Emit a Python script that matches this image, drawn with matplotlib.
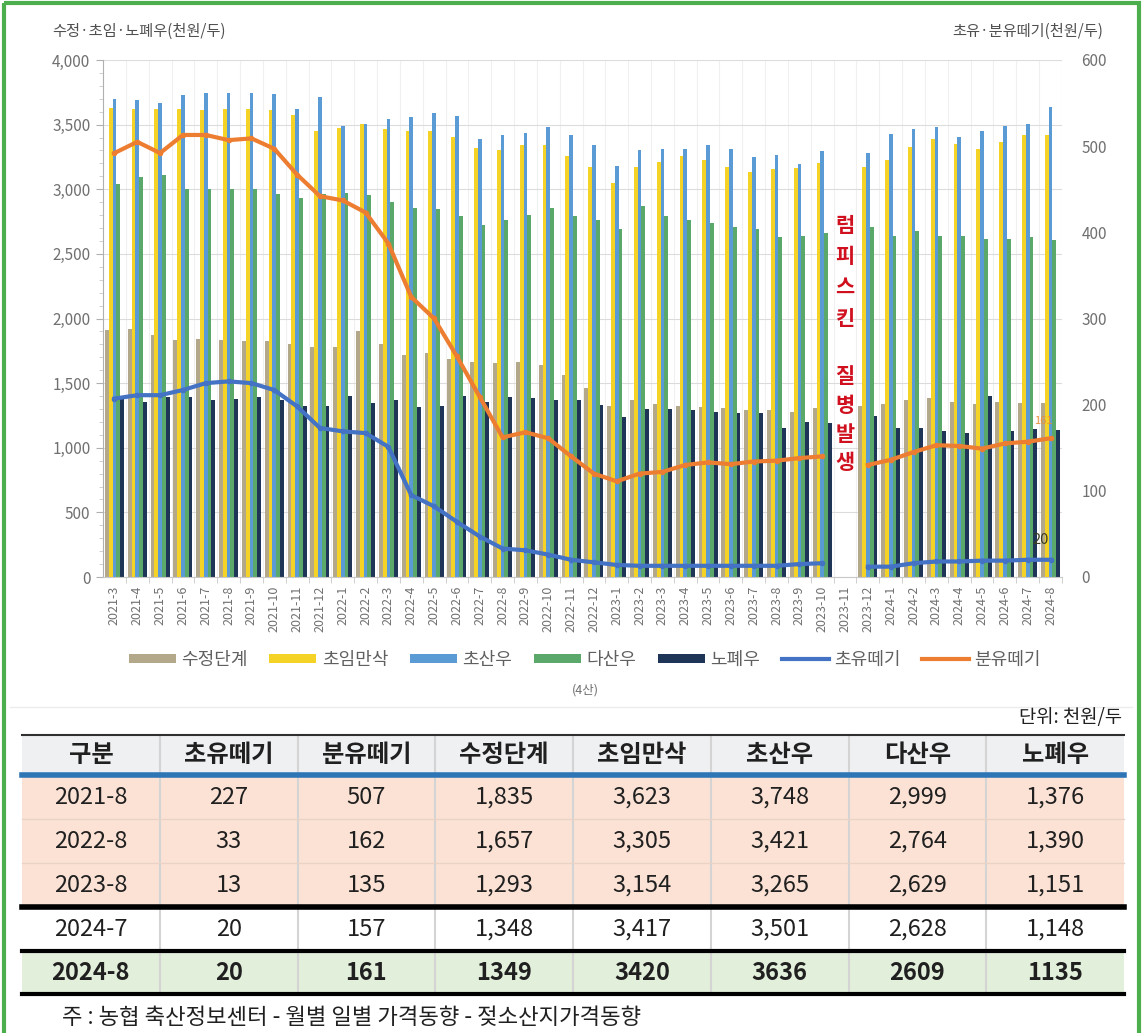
import numpy as np
import matplotlib.pyplot as plt
from matplotlib.patches import Rectangle, Patch
from matplotlib.lines import Line2D
from matplotlib.ticker import FuncFormatter, MultipleLocator

plt.rcParams['font.family'] = ['Noto Sans CJK KR', 'DejaVu Sans']

nan = np.nan

# 월별 가격 (천원/두), 2023-11 자료 없음
months = ['2021-3', '2021-4', '2021-5', '2021-6', '2021-7', '2021-8', '2021-9', '2021-10', '2021-11', '2021-12',
          '2022-1', '2022-2', '2022-3', '2022-4', '2022-5', '2022-6', '2022-7', '2022-8', '2022-9', '2022-10',
          '2022-11', '2022-12', '2023-1', '2023-2', '2023-3', '2023-4', '2023-5', '2023-6', '2023-7', '2023-8',
          '2023-9', '2023-10', '2023-11', '2023-12', '2024-1', '2024-2', '2024-3', '2024-4', '2024-5', '2024-6',
          '2024-7', '2024-8']

sujeong = [1911, 1916, 1872, 1834, 1839, 1835, 1828, 1828, 1803, 1777,
           1782, 1906, 1803, 1718, 1731, 1684, 1666, 1657, 1666, 1640,
           1563, 1460, 1323, 1369, 1339, 1323, 1313, 1305, 1292, 1293,
           1279, 1305, nan, 1323, 1339, 1369, 1385, 1356, 1339, 1356,
           1348, 1349]
choim = [3626, 3618, 3618, 3618, 3613, 3623, 3623, 3613, 3574, 3453,
         3471, 3505, 3464, 3453, 3453, 3407, 3317, 3305, 3340, 3340,
         3257, 3175, 3051, 3175, 3211, 3257, 3226, 3175, 3134, 3154,
         3164, 3201, nan, 3175, 3226, 3325, 3387, 3350, 3309, 3366,
         3417, 3420]
chosan = [3696, 3690, 3670, 3727, 3747, 3748, 3742, 3735, 3623, 3716,
          3489, 3502, 3541, 3561, 3588, 3567, 3391, 3421, 3433, 3479,
          3417, 3340, 3180, 3304, 3314, 3314, 3340, 3309, 3252, 3265,
          3195, 3298, nan, 3283, 3428, 3464, 3479, 3402, 3453, 3489,
          3501, 3636]
dasan = [3041, 3097, 3110, 3000, 3004, 2999, 3000, 2963, 2930, 2963,
         2969, 2953, 2901, 2853, 2850, 2793, 2723, 2764, 2798, 2853,
         2793, 2762, 2690, 2870, 2793, 2762, 2741, 2710, 2690, 2629,
         2638, 2664, nan, 2706, 2638, 2679, 2638, 2638, 2613, 2613,
         2628, 2609]
nopye = [1383, 1356, 1390, 1390, 1369, 1376, 1390, 1369, 1323, 1323,
         1400, 1344, 1369, 1313, 1323, 1400, 1356, 1390, 1383, 1369,
         1369, 1331, 1236, 1298, 1298, 1292, 1279, 1267, 1267, 1151,
         1202, 1189, nan, 1246, 1151, 1151, 1132, 1112, 1400, 1132,
         1148, 1135]
choyu = [207, 211, 211, 217, 225, 227, 225, 217, 198, 173,
         169, 167, 151, 95, 82, 64, 47, 33, 31, 26,
         20, 17, 14, 13, 13, 13, 13, 13, 13, 13,
         15, 16, nan, 12, 12, 16, 18, 18, 19, 19,
         20, 20]
bunyu = [492, 505, 492, 513, 513, 507, 509, 497, 467, 442,
         437, 423, 387, 325, 300, 256, 209, 162, 168, 161,
         140, 120, 111, 120, 122, 130, 133, 131, 134, 135,
         138, 140, nan, 130, 136, 145, 153, 152, 149, 155,
         157, 161]

# 표
tab_header = ['구분', '초유떼기', '분유떼기', '수정단계', '초임만삭', '초산우', '다산우', '노폐우']
tab_rows = [
    ['2021-8', '227', '507', '1,835', '3,623', '3,748', '2,999', '1,376'],
    ['2022-8', '33', '162', '1,657', '3,305', '3,421', '2,764', '1,390'],
    ['2023-8', '13', '135', '1,293', '3,154', '3,265', '2,629', '1,151'],
    ['2024-7', '20', '157', '1,348', '3,417', '3,501', '2,628', '1,148'],
    ['2024-8', '20', '161', '1349', '3420', '3636', '2609', '1135'],
]

W, H = 1142, 1033
fig = plt.figure(figsize=(W / 100, H / 100), dpi=100)
ax = fig.add_axes([103 / W, 1 - 577 / H, (1062 - 103) / W, (577 - 60) / H])
ax2 = ax.twinx()

x = np.arange(len(months))
w = 0.165
bar_series = [(sujeong, '#b3a98a', '수정단계'),
              (choim, '#f5d226', '초임만삭'),
              (chosan, '#5b9bd5', '초산우'),
              (dasan, '#5aa86a', '다산우'),
              (nopye, '#1f3558', '노폐우')]
for k, (vals, col, name) in enumerate(bar_series):
    ax.bar(x + (k - 2) * w, vals, w, color=col, zorder=2, linewidth=0)

ax.set_xlim(-0.5, len(months) - 0.5)
ax.set_ylim(0, 4000)
ax.set_yticks(np.arange(0, 4001, 500))
ax.yaxis.set_minor_locator(MultipleLocator(100))
ax.yaxis.set_major_formatter(FuncFormatter(lambda v, p: f'{int(v):,}'))
ax.set_xticks(x)
ax.set_xticklabels(months, rotation=90, fontsize=9, color='#707070')
ax.set_xticks(x + 0.5, minor=True)
ax.tick_params(axis='x', which='major', length=0, pad=6)
ax.tick_params(axis='x', which='minor', length=4, color='#c8c8c8')
ax.tick_params(axis='y', which='major', length=5, color='#b0b0b0', labelsize=11, labelcolor='#707070', pad=4)
ax.tick_params(axis='y', which='minor', length=3, color='#c8c8c8')
ax.grid(axis='y', which='major', color='#dcdcdc', lw=0.8, zorder=0)
ax.grid(axis='x', which='minor', color='#f0f0f0', lw=0.8, zorder=0)
for s in ['top', 'right']:
    ax.spines[s].set_visible(False)
ax.spines['left'].set_color('#b0b0b0')
ax.spines['bottom'].set_color('#c8c8c8')

ax2.plot(x, choyu, color='#4472c4', lw=3, marker='o', ms=3, zorder=3)
ax2.plot(x, bunyu, color='#ed7d31', lw=3, marker='o', ms=3, zorder=3)
ax2.set_ylim(0, 600)
ax2.set_yticks(range(0, 601, 100))
ax2.tick_params(axis='y', length=0, labelsize=11, labelcolor='#707070', pad=14)
for s in ax2.spines.values():
    s.set_visible(False)

ax2.annotate(f'{choyu[-1]}', (x[-1], choyu[-1]), xytext=(-7, 9), textcoords='offset points',
             ha='center', va='bottom', fontsize=10.5, color='#3c3c20', zorder=6)
ax2.annotate(f'{bunyu[-1]}', (x[-1], bunyu[-1]), xytext=(-5, 9), textcoords='offset points',
             ha='center', va='bottom', fontsize=8, color='#e8903a', zorder=6)

gap = months.index('2023-11')
ax.text(gap, 2360, '\n'.join('럼피스킨'), ha='center', va='center', fontsize=15,
        fontweight='bold', color='#d0101e', linespacing=1.6, zorder=5)
ax.text(gap, 1215, '\n'.join('질병발생'), ha='center', va='center', fontsize=15,
        fontweight='bold', color='#d0101e', linespacing=1.45, zorder=5)

fig.text(52 / W, 1 - 31 / H, '수정·초임·노폐우(천원/두)', fontsize=11, color='#505050', va='center')
fig.text(1103 / W, 1 - 31 / H, '초유·분유떼기(천원/두)', fontsize=11, color='#505050', va='center', ha='right')

handles = [Patch(facecolor=c, edgecolor='none') for _, c, _ in bar_series]
handles += [Line2D([], [], color='#4472c4', lw=3), Line2D([], [], color='#ed7d31', lw=3)]
labels = [n for _, _, n in bar_series] + ['초유떼기', '분유떼기']
fig.legend(handles, labels, loc='center', bbox_to_anchor=(585 / W, 1 - 660 / H), ncol=7,
           frameon=False, fontsize=13, handlelength=2.6, handleheight=0.45, columnspacing=1.2,
           handletextpad=0.3, labelcolor='#606060')
fig.text(585 / W, 1 - 690 / H, '(4산)', fontsize=9, color='#707070', ha='center', va='center')

# 표와 테두리
bg = fig.add_axes([0, 0, 1, 1])
bg.set_xlim(0, W)
bg.set_ylim(H, 0)
bg.axis('off')

bg.plot([10, 1132], [707, 707], color='#ececec', lw=1)
bg.text(1122, 718, '단위: 천원/두', fontsize=13.5, ha='right', va='center', color='#202020')

col_x = np.linspace(22, 1124, len(tab_header) + 1)
row_y = [735, 775, 819, 863, 907, 951, 994]
fills = ['#eff0f2', '#fbe2d5', '#fbe2d5', '#fbe2d5', '#ffffff', '#e2efda']
for r in range(len(row_y) - 1):
    bg.add_patch(Rectangle((col_x[0], row_y[r]), col_x[-1] - col_x[0], row_y[r + 1] - row_y[r],
                           facecolor=fills[r], edgecolor='none', zorder=1))
for cx in col_x[1:-1]:
    bg.plot([cx, cx], [row_y[0], row_y[-1]], color='#d4d4d4', lw=1.5, zorder=2)
bg.plot([col_x[0], col_x[-1]], [row_y[0], row_y[0]], color='#303030', lw=1.5, zorder=3)
bg.plot([col_x[0], col_x[-1]], [row_y[1], row_y[1]], color='#2e75b6', lw=4, zorder=3)
for ry in row_y[2:4]:
    bg.plot([col_x[0], col_x[-1]], [ry, ry], color='#ead3c6', lw=1, zorder=3)
bg.plot([col_x[0], col_x[-1]], [row_y[4], row_y[4]], color='black', lw=4, zorder=3)
bg.plot([col_x[0], col_x[-1]], [row_y[5], row_y[5]], color='black', lw=3, zorder=3)
bg.plot([col_x[0], col_x[-1]], [row_y[6], row_y[6]], color='black', lw=3, zorder=3)

cx_mid = (col_x[:-1] + col_x[1:]) / 2
for j, name in enumerate(tab_header):
    bg.text(cx_mid[j], (row_y[0] + row_y[1]) / 2, name, ha='center', va='center',
            fontsize=17.5, fontweight='bold', color='#202020', zorder=4)
for i, row in enumerate(tab_rows):
    last = i == len(tab_rows) - 1
    for j, val in enumerate(row):
        bg.text(cx_mid[j], (row_y[i + 1] + row_y[i + 2]) / 2, val, ha='center', va='center',
                fontsize=17, fontweight='bold' if last else 'normal', color='#202020', zorder=4)

bg.text(62, 1018, '주 : 농협 축산정보센터 - 월별 일별 가격동향 - 젖소산지가격동향', fontsize=16,
        va='center', color='#202020')

bg.add_patch(Rectangle((3.5, 3), W - 7, H + 10, fill=False, edgecolor='#4cae4c', lw=3, zorder=10))

fig.savefig('out.png', dpi=100)
